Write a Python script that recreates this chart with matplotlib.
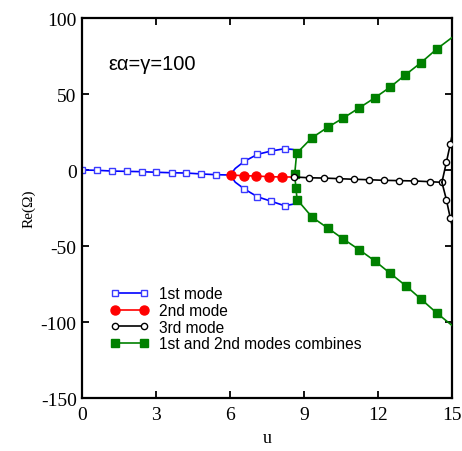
import matplotlib
matplotlib.use('Agg')
import matplotlib.pyplot as plt
import numpy as np

# 1st mode (blue), single branch then split at u~6
u_m1 = [0.0, 0.6, 1.22, 1.81, 2.4, 2.99, 3.62, 4.22, 4.82, 5.42, 6.0]
re_m1 = [0.0, -0.2, -0.7, -0.9, -1.1, -1.5, -1.8, -2.0, -2.6, -3.1, -3.3]
u_m1_up = [6.0, 6.2, 6.57, 7.1, 7.66, 8.2, 8.55, 8.69]
re_m1_up = [-3.3, 1.0, 5.7, 10.3, 12.5, 14.0, 13.5, 10.7]
u_m1_lo = [6.0, 6.2, 6.57, 7.1, 7.66, 8.2, 8.55, 8.72]
re_m1_lo = [-3.3, -8.0, -12.5, -17.6, -20.6, -23.5, -22.5, -19.5]

# 2nd mode (red)
u_m2 = [6.03, 6.54, 7.05, 7.57, 8.08, 8.6]
re_m2 = [-3.3, -3.75, -3.95, -4.4, -4.6, -4.6]

# 3rd mode (black)
u_m3 = [8.6, 9.18, 9.79, 10.4, 11.01, 11.62, 12.24, 12.85, 13.46, 14.09, 14.58]
re_m3 = [-4.6, -5.1, -5.3, -5.7, -6.1, -6.4, -6.8, -7.0, -7.2, -7.7, -8.1]
u_m3_up = [14.58, 14.76, 14.92, 15.0]
re_m3_up = [-8.1, 5.1, 17.1, 23.5]
u_m3_lo = [14.58, 14.76, 14.92, 15.0]
re_m3_lo = [-8.1, -19.5, -31.8, -37.0]

# 1st and 2nd modes combined (green), top branch -> vertical -> bottom branch
u_c = [15.0, 14.37, 13.73, 13.09, 12.47, 11.85, 11.22, 10.58, 9.95, 9.30, 8.69,
       8.61, 8.66, 8.71,
       9.32, 9.97, 10.58, 11.22, 11.85, 12.47, 13.11, 13.73, 14.37, 15.0]
re_c = [87.3, 79.6, 70.6, 62.5, 54.4, 47.4, 40.8, 34.2, 28.1, 21.1, 11.0,
        -2.8, -12.0, -19.5,
        -31.1, -38.4, -45.4, -52.4, -59.7, -67.8, -76.1, -84.9, -94.1, -102.4]

xticks = [0, 3, 6, 9, 12, 15]
yticks = [100, 50, 0, -50, -100, -150]

serif = 'Liberation Serif'
sans = 'Liberation Sans'

fig = plt.figure(figsize=(4.62, 4.52), dpi=100)
ax = fig.add_axes([82.3/462, 53/452, 370/462, 380/452])

lw = 1.2
l1, = ax.plot(u_m1, re_m1, color='blue', lw=lw, marker='s', ms=5, mfc='white',
              mec='#3a3aff', mew=1.0, markevery=list(range(10)))
ax.plot(u_m1_up, re_m1_up, color='blue', lw=lw, marker='s', ms=5, mfc='white',
        mec='#3a3aff', mew=1.0, markevery=[2, 3, 4, 5])
ax.plot(u_m1_lo, re_m1_lo, color='blue', lw=lw, marker='s', ms=5, mfc='white',
        mec='#3a3aff', mew=1.0, markevery=[2, 3, 4, 5])

l2, = ax.plot(u_m2, re_m2, color='red', lw=lw, marker='o', ms=6.5, mfc='red',
              mec='red', markevery=[0, 1, 2, 3, 4], zorder=4)

l3, = ax.plot(u_m3, re_m3, color='black', lw=lw, marker='o', ms=4.5, mfc='white',
              mec='black', mew=1.0, zorder=5)
ax.plot(u_m3_up, re_m3_up, color='black', lw=lw, marker='o', ms=4.5, mfc='white',
        mec='black', mew=1.0, markevery=[1, 2], zorder=5)
ax.plot(u_m3_lo, re_m3_lo, color='black', lw=lw, marker='o', ms=4.5, mfc='white',
        mec='black', mew=1.0, markevery=[1, 2], zorder=5)

l4, = ax.plot(u_c, re_c, color='#008000', lw=lw, marker='s', ms=5.2, mfc='#008000',
              mec='#008000', markevery=list(range(1, 23)), zorder=3)

ax.set_xlim(0, 15)
ax.set_ylim(-150, 100)
ax.set_xticks(xticks)
ax.set_yticks(yticks)
ax.set_xticklabels([str(t) for t in xticks], fontfamily=serif, fontsize=14)
ax.set_yticklabels([str(t) for t in yticks], fontfamily=serif, fontsize=14)
ax.tick_params(direction='in', length=5, width=1.3, top=True, right=True)
ax.tick_params(axis='x', pad=6)
ax.tick_params(axis='y', pad=4)
for s in ax.spines.values():
    s.set_linewidth(1.6)

ax.set_xlabel('u', fontfamily=serif, fontsize=13, labelpad=4)
ax.set_ylabel('Re(\u03a9)', fontfamily=serif, fontsize=11, labelpad=4)

ax.text(0.07, 0.879, '\u03b5\u03b1=\u03b3=100', transform=ax.transAxes,
        fontfamily=sans, fontsize=14.5, va='center', ha='left')

leg = ax.legend([l1, l2, l3, l4],
                ['1st mode', '2nd mode', '3rd mode', '1st and 2nd modes combines'],
                loc='upper left', bbox_to_anchor=(0.058, 0.31), frameon=False,
                numpoints=2, handlelength=2.5, handletextpad=0.65,
                labelspacing=0.1, prop={'family': sans, 'size': 11.2},
                borderaxespad=0)

fig.savefig('out.png', dpi=100)
